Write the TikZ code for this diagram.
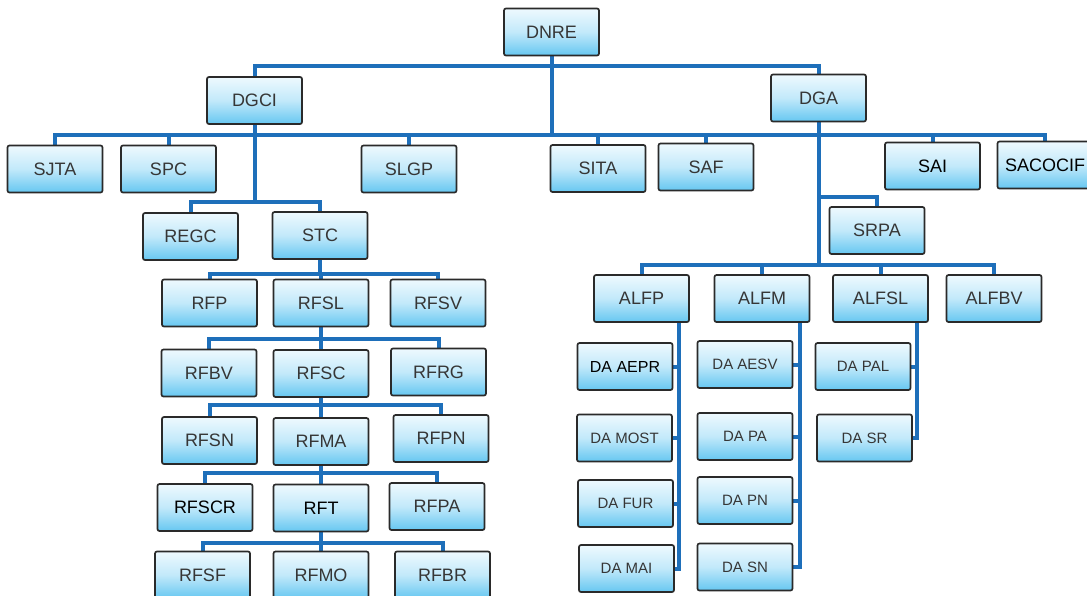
\documentclass[tikz,border=0pt]{standalone}
\usepackage{fontspec}
\setmainfont{Liberation Sans}
\definecolor{boxtop}{HTML}{EEF9FE}
\definecolor{boxmid}{HTML}{C2E9FA}
\definecolor{boxbot}{HTML}{66C7F1}
\definecolor{boxline}{HTML}{2A2A2A}
\definecolor{conncol}{HTML}{1E6FBA}
\definecolor{txt}{HTML}{363636}
\pgfdeclarelayer{bg}
\pgfsetlayers{bg,main}
\tikzset{
  orgbox/.style={draw=boxline, line width=1.7pt, rounded corners=2pt,
    top color=boxtop, bottom color=boxbot, middle color=boxmid,
    minimum width=95pt, minimum height=47pt, inner sep=0pt, outer sep=0pt,
    text=txt, font=\fontsize{18}{18}\selectfont},
  dabox/.style={orgbox, font=\fontsize{15}{15}\selectfont},
  dark/.style={text=black},
  conn/.style={draw=conncol, line width=4pt, line cap=rect, line join=miter}
}
\begin{document}
\begin{tikzpicture}[x=1pt,y=-1pt]
\useasboundingbox (0,0) rectangle (1087,595);
\clip (0,0) rectangle (1087,595);

% ---------- boxes ----------
\node[orgbox] (dnre) at (551.5,32) {DNRE};
\node[orgbox] (dgci) at (254.5,100.5) {DGCI};
\node[orgbox] (dga) at (818.5,98) {DGA};

\node[orgbox] (sjta) at (55,169) {SJTA};
\node[orgbox] (spc) at (168.5,169) {SPC};
\node[orgbox] (slgp) at (409,169) {SLGP};
\node[orgbox] (sita) at (598,168.5) {SITA};
\node[orgbox] (saf) at (706,167) {SAF};
\node[orgbox,dark] (sai) at (932.5,166) {SAI};
\node[orgbox,dark] (sacocif) at (1045,165) {SACOCIF};

\node[orgbox] (regc) at (190.5,236.5) {REGC};
\node[orgbox] (stc) at (320,235.5) {STC};
\node[orgbox] (srpa) at (877,230.5) {SRPA};

\node[orgbox] (rfp) at (209.5,303) {RFP};
\node[orgbox] (rfsl) at (321,303) {RFSL};
\node[orgbox] (rfsv) at (438,303) {RFSV};
\node[orgbox] (rfbv) at (209,373) {RFBV};
\node[orgbox] (rfsc) at (321,373.5) {RFSC};
\node[orgbox] (rfrg) at (438.5,372) {RFRG};
\node[orgbox] (rfsn) at (209.5,440.5) {RFSN};
\node[orgbox] (rfma) at (321,441.5) {RFMA};
\node[orgbox] (rfpn) at (441,438.5) {RFPN};
\node[orgbox,dark] (rfscr) at (205,507.5) {RFSCR};
\node[orgbox,dark] (rft) at (321,508) {RFT};
\node[orgbox] (rfpa) at (437,506.5) {RFPA};
\node[orgbox] (rfsf) at (202.5,575) {RFSF};
\node[orgbox] (rfmo) at (321,575) {RFMO};
\node[orgbox] (rfbr) at (442.5,575) {RFBR};

\node[orgbox] (alfp) at (641.5,298.5) {ALFP};
\node[orgbox] (alfm) at (762,298.5) {ALFM};
\node[orgbox] (alfsl) at (880.5,298.5) {ALFSL};
\node[orgbox] (alfbv) at (994,298.5) {ALFBV};

\node[dabox,dark,font=\fontsize{16}{16}\selectfont] (daaepr) at (625,366.5) {DA AEPR};
\node[dabox] (damost) at (624.5,438) {DA MOST};
\node[dabox] (dafur) at (625.5,503.5) {DA FUR};
\node[dabox] (damai) at (626.5,568.5) {DA MAI};
\node[dabox] (daaesv) at (745,364.5) {DA AESV};
\node[dabox] (dapa) at (745,436.5) {DA PA};
\node[dabox] (dapn) at (745,500.5) {DA PN};
\node[dabox] (dasn) at (745,567) {DA SN};
\node[dabox] (dapal) at (863,366.5) {DA PAL};
\node[dabox] (dasr) at (864.5,438) {DA SR};

% ---------- connectors (behind the boxes) ----------
\begin{pgfonlayer}{bg}
\fill[white] (0,0) rectangle (1087,595);
\coordinate (topbus) at (0,66);
\coordinate (sbus) at (0,135);
\draw[conn] (dgci.north) -- (dgci.north |- topbus) -| (dga.north);
\draw[conn] (dnre.south) -- (dnre.south |- sbus);
\draw[conn] (sjta.north) -- (sjta.north |- sbus) -| (sacocif.north);
\foreach \n in {spc,slgp,sita,saf,sai}
  \draw[conn] (\n.north) -- (\n.north |- sbus);
% DGCI branch
\coordinate (rbus) at (0,202);
\draw[conn] (dgci.south) -- (dgci.south |- rbus);
\draw[conn] (regc.north) -- (regc.north |- rbus) -| (stc.north);
% RF ladder
\coordinate (b1) at (0,274);
\coordinate (b2) at (0,339);
\coordinate (b3) at (0,405);
\coordinate (b4) at (0,473);
\coordinate (b5) at (0,543);
\draw[conn] (stc.south) -- (stc.south |- b1);
\draw[conn] (rfp.north) -- (rfp.north |- b1) -| (rfsv.north);
\draw[conn] (rfsl.north) -- (rfsl.north |- b1);
\draw[conn] (rfsl.south) -- (rfsl.south |- b2);
\draw[conn] (rfbv.north) -- (rfbv.north |- b2) -| (rfrg.north);
\draw[conn] (rfsc.north) -- (rfsc.north |- b2);
\draw[conn] (rfsc.south) -- (rfsc.south |- b3);
\draw[conn] (rfsn.north) -- (rfsn.north |- b3) -| (rfpn.north);
\draw[conn] (rfma.north) -- (rfma.north |- b3);
\draw[conn] (rfma.south) -- (rfma.south |- b4);
\draw[conn] (rfscr.north) -- (rfscr.north |- b4) -| (rfpa.north);
\draw[conn] (rft.north) -- (rft.north |- b4);
\draw[conn] (rft.south) -- (rft.south |- b5);
\draw[conn] (rfsf.north) -- (rfsf.north |- b5) -| (rfbr.north);
\draw[conn] (rfmo.north) -- (rfmo.north |- b5);
% DGA branch
\coordinate (abus) at (0,265);
\coordinate (sr) at (0,197);
\draw[conn] (dga.south) -- (dga.south |- abus);
\draw[conn] (dga.south |- sr) -| (srpa.north);
\draw[conn] (alfp.north) -- (alfp.north |- abus) -| (alfbv.north);
\draw[conn] (alfm.north) -- (alfm.north |- abus);
\draw[conn] (alfsl.north) -- (alfsl.north |- abus);
% DA trunks
\coordinate (tp) at (679,0);
\coordinate (tm) at (800,0);
\coordinate (ts) at (917,0);
\draw[conn] (alfp.south -| tp) |- (damai.east);
\foreach \n in {daaepr,damost,dafur}
  \draw[conn] (\n.east) -- (\n.east -| tp);
\draw[conn] (alfm.south -| tm) |- (dasn.east);
\foreach \n in {daaesv,dapa,dapn}
  \draw[conn] (\n.east) -- (\n.east -| tm);
\draw[conn] (alfsl.south -| ts) |- (dasr.east);
\draw[conn] (dapal.east) -- (dapal.east -| ts);
\end{pgfonlayer}
\end{tikzpicture}
\end{document}
